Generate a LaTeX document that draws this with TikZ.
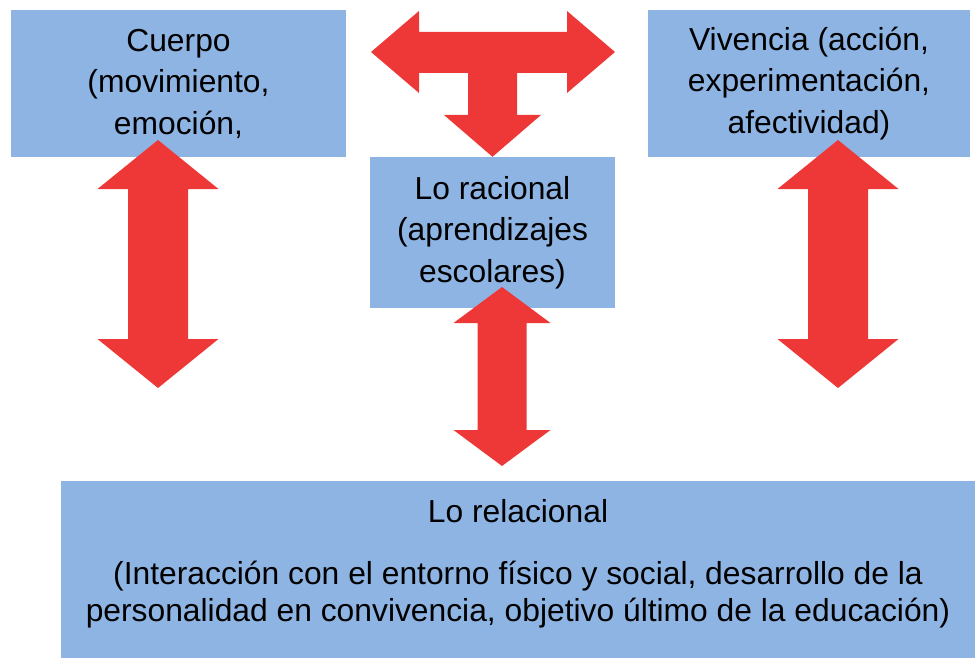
\documentclass[tikz,border=0pt]{standalone}
\usepackage{fontspec}
\setmainfont{Liberation Sans}
\usepackage[dvipsnames]{xcolor}
\usetikzlibrary{shapes.geometric, arrows, shapes}
\definecolor{boxblue}{RGB}{142,180,227}
\definecolor{arrowred}{RGB}{238,56,56}
\tikzstyle{box} = [rectangle, align=center, fill=boxblue, inner sep=0pt, font=\fontsize{31.8}{41.5}\selectfont]
\tikzstyle{bigarrow} = [fill=arrowred, draw=none]

% vertical block arrow with two heads: x, top tip, bottom tip, half shaft, half head, head length
\newcommand{\vdblarrow}[6]{%
  \fill[bigarrow] (#1,#2) -- ({#1+#5},{#2+#6}) -- ({#1+#4},{#2+#6}) -- ({#1+#4},{#3-#6})
    -- ({#1+#5},{#3-#6}) -- (#1,#3) -- ({#1-#5},{#3-#6}) -- ({#1-#4},{#3-#6})
    -- ({#1-#4},{#2+#6}) -- ({#1-#5},{#2+#6}) -- cycle;}

\begin{document}
\begin{tikzpicture}[x=1pt, y=1pt, yscale=-1]

\useasboundingbox (0,0) rectangle (977,658);

\node at (178.5, 83.5) (cuerpo) [box, minimum width=335, minimum height=147] {Cuerpo\\(movimiento,\\emoción,};
\node at (809, 83.5) (vivencia) [box, minimum width=322, minimum height=147] {Vivencia (acción,\\experimentación,\\afectividad)};
\node at (492.5, 232.5) (racional) [box, minimum width=245, minimum height=151] {Lo racional\\(aprendizajes\\escolares)};
\node at (518, 569.5) (relacional) [box, minimum width=914, minimum height=177, text depth=19pt, font=\fontsize{31.8}{37}\selectfont] {Lo relacional\\[25pt](Interacción con el entorno físico y social, desarrollo de la\\personalidad en convivencia, objetivo último de la educación)};

% T arrow between the top boxes, pointing down to lo racional
\fill[bigarrow] (371,52) -- (419,11) -- (419,32) -- (567,32) -- (567,11) -- (615,52)
  -- (567,93) -- (567,73) -- (517,73) -- (517,115) -- (541,115) -- (racional.north)
  -- (444,115) -- (468,115) -- (468,73) -- (419,73) -- (419,93) -- cycle;

\vdblarrow{158}{140}{388}{30}{60.5}{49}
\vdblarrow{838}{140}{388}{30}{60.5}{49}
\vdblarrow{502}{287}{466}{24.5}{48.5}{36}

\end{tikzpicture}
\end{document}
